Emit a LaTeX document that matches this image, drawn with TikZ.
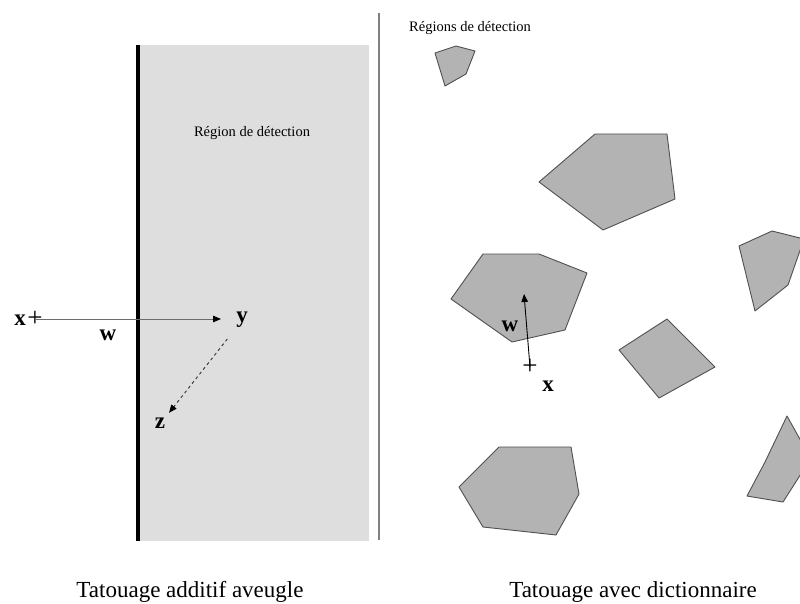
\documentclass[tikz,border=0pt]{standalone}
\usepackage{fontspec}
\setmainfont{Liberation Serif}
\usepackage{xcolor}
\usetikzlibrary{arrows.meta, positioning}

\definecolor{zonegray}{HTML}{DEDEDE}
\definecolor{regionfill}{HTML}{B3B3B3}
\definecolor{regionline}{HTML}{505050}

\begin{document}
\begin{tikzpicture}[x=1pt, y=-1pt,
    region/.style={fill=regionfill, draw=regionline, line width=0.9pt, line join=round},
    bold letter/.style={inner sep=0pt, font=\fontsize{23}{23}\selectfont\bfseries},
    cross/.style={inner sep=0pt, font=\fontsize{27}{27}\selectfont},
    small/.style={font=\fontsize{14.5}{16}\selectfont},
    caption/.style={font=\fontsize{23}{25}\selectfont},
    tip/.style={-{Triangle[length=8pt, width=6.5pt, color=black]}}]
    \useasboundingbox (0,0) rectangle (800,604);

    % Left: blind additive embedding
    \fill[zonegray] (138,45) rectangle (369,541);
    \draw[line width=3.6pt] (138,45) -- (138,541);
    \node[small] (zone) at (252,133) {Région de détection};

    \node[bold letter] (xl) at (20,320) {x};
    \node[cross] (pl) at (35,319) {+};
    \node[bold letter] (yl) at (242,320) {y};
    \node[bold letter] (wl) at (108,335) {w};
    \node[bold letter] (zl) at (160,423) {z};
    \draw[tip, gray!85!black, line width=1pt, shorten >=15pt] (pl.center) -- (pl.center -| yl.west);
    \draw[tip, dashed, black!80, line width=0.9pt, shorten <=14pt, shorten >=6pt]
        (yl.south west) -- (zl.north east);

    % Separator
    \draw[gray, line width=1.6pt] (379,13) -- (379,540);

    % Right: embedding with a dictionary
    \node[small] (zones) at (470,28) {Régions de détection};
    \begin{scope}
        \clip (0,0) rectangle (800,604);
        \filldraw[region] (435,53) -- (456,46) -- (475,51) -- (466,74) -- (445,86) -- cycle;
        \filldraw[region] (539,182) -- (595,134) -- (667,134) -- (675,199) -- (603,230) -- cycle;
        \filldraw[region] (451,299) -- (483,254) -- (539,254) -- (587,273) -- (565,330) -- (512,342) -- cycle;
        \filldraw[region] (739,246) -- (772,231) -- (804,239) -- (788,285) -- (755,311) -- cycle;
        \filldraw[region] (619,350) -- (667,319) -- (715,367) -- (659,398) -- cycle;
        \filldraw[region] (459,487) -- (499,447) -- (571,447) -- (579,494) -- (556,535) -- (483,527) -- cycle;
        \filldraw[region] (747,496) -- (765,462) -- (787,416) -- (806,450) -- (806,466) -- (783,502) -- cycle;
    \end{scope}

    \node[cross] (pr) at (530,367) {+};
    \node[bold letter] (xr) at (548,386) {x};
    \node[bold letter] (wr) at (510,326) {w};
    \coordinate (cr) at (524,294);
    \draw[tip, line width=0.9pt] (pr.center) -- (cr);

    % Captions
    \node[caption] (capl) at (190,592) {Tatouage additif aveugle};
    \node[caption] (capr) at (633,592) {Tatouage avec dictionnaire};
\end{tikzpicture}
\end{document}
